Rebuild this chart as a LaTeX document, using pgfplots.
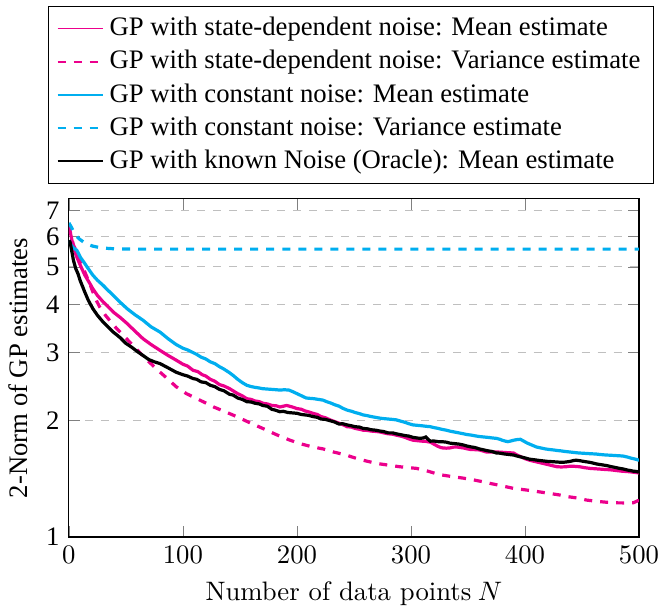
\documentclass[border=0pt]{standalone}
\usepackage{fontspec}
\setmainfont{Liberation Serif}
\newfontfamily\lmr{Latin Modern Roman}
\usepackage{pgfplots}
\pgfplotsset{compat=1.18}
\definecolor{magC}{RGB}{236,0,140}
\definecolor{cyaC}{RGB}{0,174,239}
\begin{document}
\begin{tikzpicture}
\begin{axis}[
  scale only axis,
  width=213.5pt, height=126.6pt,
  ymode=log,
  xmin=0, xmax=500, ymin=1, ymax=7.5,
  xtick={0,100,...,500},
  ytick={1,2,3,4,5,6,7},
  yticklabels={1,2,3,4,5,6,7},
  yminorticks=false,
  ymajorgrids,
  major grid style={dashed, black!25},
  xlabel={{\lmr Number of data points} $N$},
  ylabel={2-Norm of GP estimates},
  legend cell align=left,
  legend style={at={(0.5,1.045)}, anchor=south, xshift=-1pt, draw=black, font=\normalsize},
]
\addlegendimage{magC, line width=0.6pt}
\addlegendentry{GP with state-dependent noise: Mean estimate}
\addlegendimage{draw=magC, dash pattern=on 3pt off 3pt, line width=0.7pt}
\addlegendentry{GP with state-dependent noise: Variance estimate}
\addlegendimage{cyaC, line width=0.6pt}
\addlegendentry{GP with constant noise: Mean estimate}
\addlegendimage{draw=cyaC, dash pattern=on 3pt off 3pt, line width=0.6pt}
\addlegendentry{GP with constant noise: Variance estimate}
\addlegendimage{black, line width=0.6pt}
\addlegendentry{GP with known Noise (Oracle): Mean estimate}
% state-dependent noise, mean
\addplot[magC, line width=1.2pt, mark=none, forget plot] coordinates {
(0,6.35)(2,6.0)(4,5.6)(7,5.3)(10,5.05)(14,4.76)(18,4.55)(21,4.39)(25,4.22)(30,4.06)
(35,3.93)(39,3.82)(45,3.7)(51,3.57)(58,3.41)(65,3.26)(72,3.15)(80,3.04)(87,2.95)(94,2.87)
(100,2.80)(104,2.77)(109,2.70)(113,2.68)(117,2.63)(120,2.61)(124,2.56)(128,2.53)(132,2.48)
(136,2.46)(141,2.42)(144,2.39)(148,2.35)(152,2.32)(156,2.28)(160,2.27)(163,2.25)(167,2.24)
(170,2.22)(174,2.21)(178,2.19)(182,2.185)(185,2.17)(188,2.18)(191,2.19)(196,2.17)(200,2.15)
(204,2.14)(207,2.12)(211,2.105)(214,2.09)(218,2.075)(221,2.05)(225,2.035)(229,2.01)(233,1.99)
(237,1.97)(240,1.955)(244,1.93)(248,1.925)(251,1.91)(255,1.9)(258,1.89)(262,1.887)(265,1.88)
(269,1.876)(273,1.87)(276,1.86)(280,1.85)(284,1.845)(287,1.835)(291,1.825)(295,1.81)(298,1.795)
(302,1.78)(306,1.775)(310,1.77)(313,1.768)(317,1.76)(320,1.74)(323,1.72)(326,1.705)(328,1.70)
(331,1.698)(334,1.70)(337,1.708)(340,1.71)(343,1.705)(346,1.70)(349,1.692)(352,1.685)(356,1.683)
(360,1.68)(363,1.67)(366,1.66)(370,1.66)(375,1.66)(378,1.658)(382,1.655)(386,1.652)(390,1.65)
(393,1.63)(397,1.61)(400,1.595)(404,1.58)(408,1.57)(412,1.56)(416,1.55)(420,1.54)(424,1.53)
(428,1.52)(432,1.518)(436,1.52)(439,1.524)(442,1.525)(445,1.522)(448,1.52)(452,1.512)(457,1.505)
(460,1.503)(464,1.50)(468,1.497)(471,1.495)(474,1.493)(477,1.49)(481,1.485)(485,1.48)(488,1.478)
(492,1.475)(496,1.47)(500,1.465)
};
% state-dependent noise, variance
\addplot[magC, dashed, line width=1.2pt, mark=none, forget plot] coordinates {
(0,6.4)(2,6.0)(4,5.7)(7,5.46)(10,5.15)(14,4.85)(18,4.55)(21,4.31)(24,4.1)(27,3.94)
(32,3.75)(37,3.6)(42,3.46)(48,3.32)(54,3.18)(59,3.07)(66,2.92)(73,2.79)(80,2.67)(87,2.56)
(94,2.45)(103,2.35)(115,2.26)(127,2.17)(137,2.11)(147,2.05)(158,1.98)(170,1.91)(182,1.84)
(194,1.78)(204,1.74)(214,1.71)(223,1.69)(232,1.66)(243,1.63)(250,1.605)(258,1.58)(270,1.55)
(280,1.535)(290,1.52)(305,1.505)(315,1.48)(325,1.45)(335,1.435)(346,1.42)(355,1.405)(363,1.39)
(370,1.375)(378,1.36)(390,1.336)(404,1.32)(419,1.30)(430,1.285)(439,1.27)(447,1.26)(454,1.246)
(465,1.235)(477,1.226)(488,1.225)(495,1.226)(500,1.245)
};
% constant noise, mean
\addplot[cyaC, line width=1.2pt, mark=none, forget plot] coordinates {
(0,5.85)(2,5.69)(4,5.6)(7,5.52)(10,5.3)(14,5.1)(18,4.9)(21,4.76)(25,4.62)(30,4.48)
(35,4.33)(39,4.22)(45,4.05)(51,3.9)(58,3.76)(65,3.64)(72,3.5)(80,3.39)(87,3.26)(94,3.15)
(100,3.08)(104,3.05)(109,3.0)(112,2.97)(116,2.92)(120,2.89)(124,2.84)(128,2.81)(132,2.76)
(136,2.72)(141,2.66)(144,2.62)(148,2.56)(152,2.51)(156,2.47)(160,2.45)(163,2.44)(167,2.43)
(170,2.42)(174,2.415)(178,2.41)(182,2.405)(185,2.40)(189,2.405)(193,2.40)(196,2.38)(200,2.35)
(204,2.32)(208,2.29)(211,2.285)(215,2.28)(219,2.27)(223,2.26)(226,2.24)(230,2.22)(233,2.20)
(237,2.18)(240,2.155)(244,2.13)(248,2.115)(251,2.10)(255,2.085)(258,2.07)(262,2.06)(265,2.05)
(269,2.04)(273,2.03)(276,2.025)(280,2.02)(284,2.015)(287,2.01)(291,1.995)(295,1.98)(298,1.965)
(302,1.95)(306,1.945)(310,1.94)(313,1.935)(317,1.93)(320,1.92)(324,1.91)(327,1.9)(331,1.89)
(334,1.88)(338,1.87)(342,1.86)(346,1.85)(349,1.842)(353,1.835)(356,1.828)(360,1.82)(364,1.815)
(368,1.81)(371,1.805)(375,1.80)(378,1.79)(380,1.78)(383,1.77)(385,1.765)(388,1.773)(390,1.78)
(393,1.787)(396,1.79)(399,1.77)(402,1.75)(406,1.73)(410,1.71)(414,1.70)(418,1.69)(421,1.685)
(425,1.68)(428,1.675)(432,1.67)(435,1.665)(439,1.66)(443,1.655)(447,1.65)(450,1.648)(454,1.645)
(458,1.642)(462,1.64)(466,1.635)(471,1.63)(475,1.628)(479,1.625)(482,1.623)(486,1.62)(490,1.61)
(493,1.60)(497,1.59)(500,1.58)
};
% constant noise, variance
\addplot[cyaC, dashed, line width=1.2pt, mark=none, forget plot] coordinates {
(0,6.5)(2,6.35)(5,6.1)(8,5.95)(10,5.88)(14,5.77)(18,5.7)(21,5.66)(26,5.62)(32,5.59)
(40,5.57)(60,5.56)(100,5.56)(200,5.56)(300,5.56)(400,5.56)(500,5.56)
};
% known noise (oracle), mean
\addplot[black, line width=1.2pt, mark=none, forget plot] coordinates {
(0,5.85)(1,5.8)(2,5.6)(4,5.2)(6,4.95)(8,4.8)(10,4.6)(12,4.45)(14,4.3)(17,4.1)
(21,3.9)(25,3.75)(30,3.6)(35,3.48)(39,3.39)(45,3.28)(50,3.17)(55,3.1)(60,3.02)(65,2.95)
(70,2.88)(75,2.84)(80,2.81)(87,2.74)(94,2.67)(100,2.63)(104,2.61)(109,2.57)(112,2.56)
(116,2.52)(120,2.51)(124,2.47)(128,2.45)(132,2.41)(136,2.39)(141,2.34)(144,2.33)(148,2.29)
(152,2.27)(156,2.24)(160,2.235)(163,2.22)(167,2.21)(170,2.19)(174,2.18)(178,2.14)(181,2.13)
(185,2.11)(188,2.115)(192,2.10)(196,2.095)(200,2.09)(204,2.075)(207,2.07)(210,2.065)(214,2.05)
(218,2.04)(221,2.02)(225,2.015)(229,2.0)(233,1.985)(237,1.96)(240,1.965)(244,1.95)(248,1.94)
(251,1.93)(255,1.925)(258,1.91)(262,1.905)(265,1.895)(269,1.89)(273,1.88)(276,1.875)(280,1.86)
(284,1.86)(287,1.85)(291,1.84)(295,1.83)(298,1.825)(302,1.81)(305,1.805)(308,1.80)(311,1.805)
(313,1.815)(315,1.79)(317,1.77)(320,1.772)(324,1.765)(327,1.765)(331,1.76)(334,1.75)(338,1.745)
(342,1.74)(346,1.73)(349,1.72)(353,1.71)(356,1.705)(360,1.69)(364,1.68)(368,1.67)(371,1.665)
(375,1.65)(378,1.648)(382,1.64)(386,1.635)(390,1.63)(393,1.62)(397,1.61)(400,1.602)(404,1.59)
(408,1.585)(411,1.58)(415,1.575)(419,1.57)(422,1.568)(426,1.565)(430,1.562)(433,1.56)(437,1.565)
(440,1.57)(443,1.578)(445,1.58)(448,1.576)(451,1.57)(454,1.565)(457,1.56)(460,1.553)(463,1.545)
(466,1.54)(469,1.535)(472,1.53)(476,1.52)(480,1.512)(483,1.505)(486,1.5)(490,1.49)(493,1.485)
(495,1.48)(498,1.478)(500,1.47)
};
\coordinate (ll) at (rel axis cs:0,0);
\coordinate (ur) at (rel axis cs:1,1);
\end{axis}
\pgfresetboundingbox
\path ([xshift=-25.8pt,yshift=-25.5pt]ll) rectangle ([xshift=7.5pt,yshift=74.5pt]ur);
\end{tikzpicture}
\end{document}
